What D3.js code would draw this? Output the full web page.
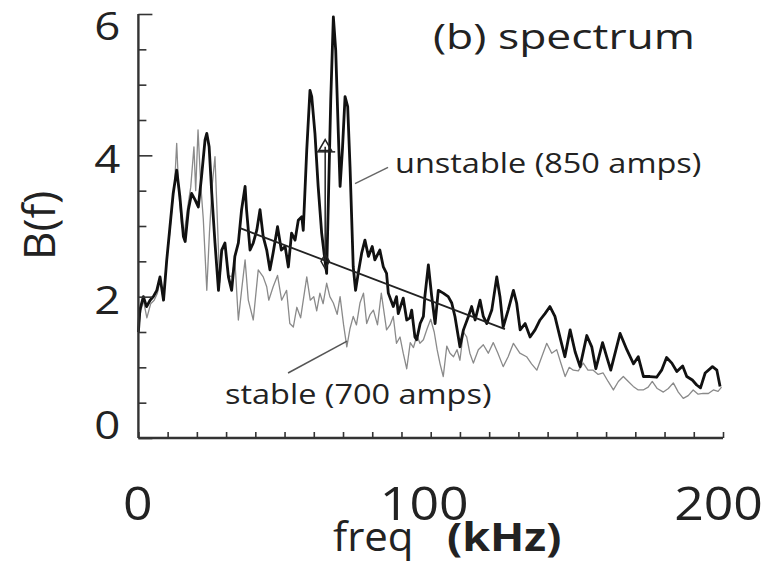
<!DOCTYPE html>
<html><head><meta charset="utf-8">
<script src="https://cdn.jsdelivr.net/npm/d3@7"></script>
<style>body{margin:0;background:#fff}svg{display:block}text{font-family:"Open Sans","Noto Sans",sans-serif;fill:#222}</style>
</head><body><svg id="c" width="769" height="564"></svg>
<script>
// ---- data ----
const unstableF = [0,0.5,1.7,2.8,4.0,5.1,6.3,7.4,8.6,9.7,10.8,11.9,13.1,14.2,15.4,16.0,17.1,18.2,19.4,20.5,21.6,22.8,23.4,24.2,25.1,26.2,27.4,28.5,29.6,30.8,31.9,33.0,34.2,35.3,36.5,37.0,38.2,39.3,40.5,41.6,42.7,43.9,45.0,46.1,47.6,48.9,50.2,51.3,52.4,53.6,54.7,55.9,56.4,57.6,58.7,59.3,60.4,61.5,62.7,63.8,64.4,65.0,65.8,66.7,67.5,68.4,69.0,69.8,70.7,71.6,72.4,73.5,74.3,75.2,76.4,77.5,78.7,80.0,80.9,82.6,83.8,84.9,85.5,87.2,88.3,88.9,90.6,91.8,92.9,93.5,94.6,95.2,96.4,97.5,98.0,99.2,100.3,101.5,102.6,104.3,106.0,107.2,108.3,110.0,111.2,112.9,114.0,115.2,116.9,118.0,119.2,120.9,122.6,123.7,124.8,126.5,128.3,129.4,130.6,132.3,134.0,135.7,137.4,139.1,140.8,142.5,144.2,145.9,147.7,149.4,151.1,153.4,155.1,156.5,158.8,160.2,161.6,164.8,167.1,169.4,171.0,172.8,175.0,177.3,179.0,180.7,182.5,184.2,186.2,187.6,189.5,191.0,192.3,193.9,196.4,197.9,199.0];
const unstableB = [1.5,1.81,2.0,1.86,1.95,2.0,2.09,2.28,1.95,2.52,2.99,3.46,3.79,3.41,2.85,2.78,3.23,3.46,3.37,3.27,3.70,4.22,4.31,4.12,3.46,2.76,2.09,2.66,2.76,2.28,2.09,2.57,2.76,3.23,3.56,3.23,2.66,2.76,2.94,3.23,2.85,2.66,2.38,2.62,2.99,2.66,2.71,2.42,2.90,2.80,3.08,3.13,2.94,4.08,4.92,4.83,4.31,3.56,2.90,2.52,2.33,3.37,4.78,5.96,5.49,4.31,3.56,4.08,4.83,4.69,3.84,2.42,2.09,2.33,2.62,2.80,2.57,2.71,2.52,2.66,2.42,2.33,2.05,1.86,2.0,1.76,1.98,1.67,1.70,1.81,1.43,1.39,1.62,1.72,2.0,2.45,2.02,1.62,2.09,2.05,2.0,1.91,1.72,1.29,1.53,1.72,1.86,1.67,1.95,1.72,1.62,1.81,2.28,2.0,1.57,1.81,2.09,1.91,1.53,1.62,1.43,1.53,1.67,1.76,1.86,1.72,1.43,1.15,1.53,1.22,1.01,1.45,1.29,0.98,1.35,1.15,0.96,1.48,1.25,1.05,1.15,0.87,0.87,0.86,0.96,1.14,1.06,0.94,1.02,0.87,0.82,0.75,0.71,0.92,1.01,0.96,0.73];
const stableF = [0,0.6,1.7,2.9,4.2,5.4,6.5,7.5,8.5,9.6,10.6,11.6,12.4,13.1,13.8,14.8,15.7,16.8,17.9,19.0,19.6,20.4,21.3,22.2,23.4,24.3,25.3,26.2,27.0,27.8,28.5,29.6,30.8,31.9,33.0,34.2,35.3,36.5,37.6,39.3,41.0,42.7,43.9,44.6,46.1,47.6,49.0,50.7,51.8,53.0,54.2,55.5,57.6,58.8,60.0,61.0,62.1,63.2,64.4,65.5,66.7,68.0,69.0,70.2,71.3,72.4,73.5,74.6,75.8,77.0,78.1,79.3,80.4,81.8,83.1,84.9,86.1,87.2,88.3,89.5,90.6,91.8,93.0,94.1,95.3,96.3,97.5,98.8,100.0,101.2,102.2,103.2,104.3,105.5,106.6,107.8,109.0,110.0,111.2,112.3,113.4,114.6,116.3,118.0,119.7,121.4,123.0,124.8,126.5,128.3,130.5,132.8,134.5,136.3,138.0,139.7,141.4,143.1,144.6,146.0,147.4,148.8,150.5,152.2,153.8,155.6,157.3,159.0,160.7,162.5,164.2,165.9,167.6,169.3,171.0,172.7,174.4,175.8,177.5,179.6,181.3,183.0,184.7,186.4,188.1,189.8,191.5,193.2,195.0,196.7,198.3,199.5];
const stableB = [1.5,1.75,1.95,1.7,1.9,1.95,2.05,2.25,1.95,2.5,2.85,3.3,3.6,4.17,3.5,3.0,2.9,3.25,3.55,4.12,3.5,4.36,3.6,3.1,2.09,2.9,3.6,3.98,3.1,2.2,2.61,2.76,2.3,2.28,2.52,1.67,2.09,2.52,1.95,1.67,2.38,2.28,2.14,1.95,2.14,2.3,1.95,2.09,1.62,1.57,1.85,1.7,2.28,1.95,2.0,1.8,2.05,1.9,2.19,2.0,1.91,1.75,2.0,1.6,1.29,1.55,1.72,1.6,1.91,2.05,1.62,1.75,1.81,1.6,2.05,1.53,1.6,1.72,1.34,1.43,1.2,0.98,1.35,1.28,1.45,1.34,1.39,1.55,1.68,1.5,1.25,1.05,0.87,1.3,1.2,1.15,1.25,1.10,1.5,1.43,1.2,1.06,1.25,1.32,1.2,1.35,1.2,1.01,1.15,1.34,1.2,1.15,1.05,0.96,1.15,1.34,1.2,1.25,1.05,0.87,1.0,0.96,0.95,1.06,0.96,0.96,0.9,0.92,0.8,0.68,0.8,0.87,0.8,0.73,0.68,0.68,0.72,0.8,0.7,0.65,0.7,0.78,0.65,0.56,0.6,0.68,0.62,0.63,0.63,0.68,0.66,0.72];
const trendF = [34.8,125.4], trendB = [2.97,1.54];
const peakTopF = 63.9, peakTopB = 4.12, peakBaseF = 63.9, peakBaseB = 2.50;
const xTickLabels = [0,100,200];
const yTickLabels = [0,2,4,6];
const title = "(b) spectrum";
const unstableLabel = "unstable (850 amps)";
const stableLabel = "stable (700 amps)";
const unstableLeaderF = [85.4,74.1], unstableLeaderB = [3.83,3.60];
const stableLeaderF = [51.2,71.4], stableLeaderB = [0.92,1.37];

// ---- chart ----
const svg = d3.select("#c");
svg.append("rect").attr("width",769).attr("height",564).attr("fill","#fff");
const x = d3.scaleLinear().domain([0,200]).range([138.4,723]);
const y = d3.scaleLinear().domain([0,6]).range([438,14]);
const line = d3.line().x(d=>x(d[0])).y(d=>y(d[1]));

// stable (gray, thin)
svg.append("path").datum(d3.zip(stableF,stableB)).attr("d",line)
  .attr("fill","none").attr("stroke","#8a8a8a").attr("stroke-width",1.3).attr("stroke-linejoin","round");
// unstable (black, thick)
svg.append("path").datum(d3.zip(unstableF,unstableB)).attr("d",line)
  .attr("fill","none").attr("stroke","#111").attr("stroke-width",2.8).attr("stroke-linejoin","round");
// trend line
svg.append("path").datum(d3.zip(trendF,trendB)).attr("d",line)
  .attr("fill","none").attr("stroke","#222").attr("stroke-width",1.8);
// peak marker
svg.append("line").attr("x1",x(peakTopF)).attr("x2",x(peakBaseF)).attr("y1",y(peakTopB)).attr("y2",y(peakBaseB))
  .attr("stroke","#222").attr("stroke-width",1.5);
svg.append("line").attr("x1",x(peakTopF)-9).attr("x2",x(peakTopF)+10).attr("y1",y(peakTopB)+5).attr("y2",y(peakTopB)+5)
  .attr("stroke","#222").attr("stroke-width",1.5);
svg.append("path").attr("d",d3.symbol(d3.symbolTriangle,70)())
  .attr("transform",`translate(${x(peakTopF)},${y(peakTopB)})`).attr("fill","none").attr("stroke","#222").attr("stroke-width",1.5);
svg.append("path").attr("d",d3.symbol(d3.symbolDiamond,60)())
  .attr("transform",`translate(${x(peakBaseF)},${y(peakBaseB)})`).attr("fill","none").attr("stroke","#222").attr("stroke-width",1.5);

// leaders
svg.append("path").datum(d3.zip(unstableLeaderF,unstableLeaderB)).attr("d",line).attr("stroke","#666").attr("stroke-width",1.5).attr("fill","none");
svg.append("path").datum(d3.zip(stableLeaderF,stableLeaderB)).attr("d",line).attr("stroke","#555").attr("stroke-width",1.5).attr("fill","none");

// axes: y ticks (inward)
const yMinor = d3.range(0,6.01,0.5);
const ya = svg.append("g").attr("transform","translate(138.4,0)")
  .call(d3.axisRight(y).tickValues(yMinor.filter(v=>v%2!==0)).tickSize(8).tickFormat("").tickSizeOuter(0));
ya.select(".domain").remove();
const yb = svg.append("g").attr("transform","translate(138.4,0)")
  .call(d3.axisRight(y).tickValues(yMinor.filter(v=>v%2===0)).tickSize(14).tickFormat("").tickSizeOuter(0));
yb.select(".domain").attr("d",`M0,${y(0)}V${y(6)}`);
const yl = svg.append("g").attr("transform","translate(138.4,0)")
  .call(d3.axisLeft(y).tickValues(yTickLabels).tickSize(0).tickPadding(15).tickFormat(d3.format("d")));
yl.select(".domain").remove();
yl.selectAll("text").attr("font-size",38).attr("fill","#222")
  .attr("transform","scale(1.2,1)")
  .attr("dy",d=> d===0 ? "0.0em" : d===6 ? "0.66em" : "0.45em");
// x ticks (inward)
const xa = svg.append("g").attr("transform",`translate(0,${y(0)})`)
  .call(d3.axisTop(x).tickValues(d3.range(0,201,10)).tickSize(6).tickFormat("").tickSizeOuter(0));
xa.select(".domain").attr("d",`M${x(0)},0H${x(200)}`);
const xl = svg.append("g").attr("transform",`translate(0,${y(0)})`)
  .call(d3.axisBottom(x).tickValues(xTickLabels).tickSize(0).tickPadding(50));
xl.select(".domain").remove();
xl.selectAll("text").attr("font-size",45).attr("fill","#222")
  .attr("transform",d=>`translate(${d===0?-1:d===100?-7:-5},0) scale(1.15,1)`);
svg.selectAll(".domain").attr("stroke","#333").attr("stroke-width",2.4);
svg.selectAll(".tick line").attr("stroke","#333").attr("stroke-width",1.6);

// titles
function stretched(tx, ty, sx, size, str, weight) {
  return svg.append("text").attr("transform",`translate(${tx},${ty}) scale(${sx},1)`)
    .attr("font-size",size).attr("font-weight",weight||"normal").text(str);
}
stretched(433, 49, 1.27, 35, title);
stretched(395, 173, 1.16, 28, unstableLabel);
stretched(225, 404, 1.16, 28, stableLabel);
svg.append("text").attr("transform","translate(55,260) rotate(-90)").attr("text-anchor","start").attr("font-size",44).text("B(f)");
stretched(333, 551, 1.05, 40, "freq");
stretched(447, 551, 1.15, 39, "(kHz)", "bold").attr("fill","#000");
</script></body></html>
